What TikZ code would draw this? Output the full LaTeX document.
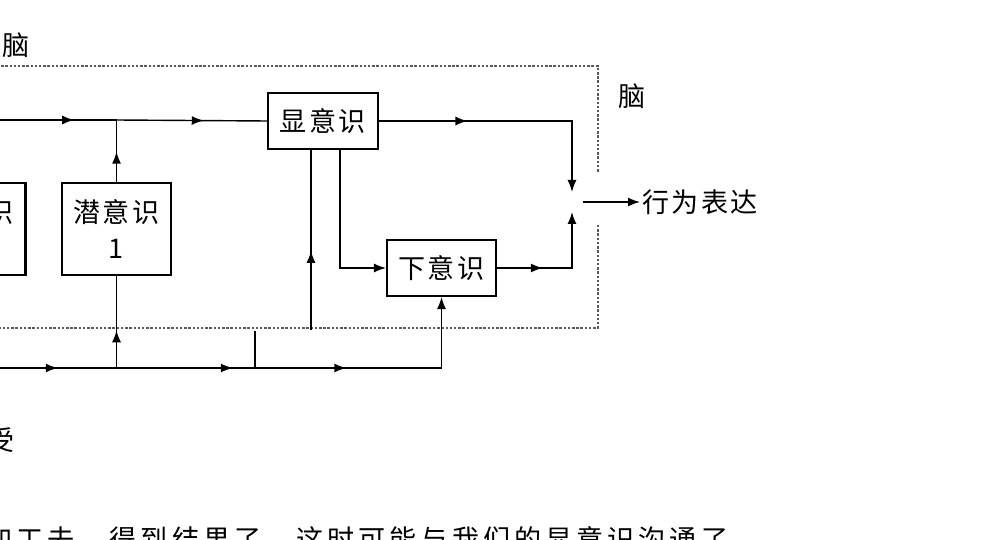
\documentclass[tikz,border=0pt]{standalone}
\usepackage{fontspec}
\setmainfont{Noto Sans CJK SC}[LetterSpace=9]
\usetikzlibrary{arrows.meta,decorations.markings}
\begin{document}
\begin{tikzpicture}[x=0.02cm, y=-0.02cm,
  font=\fontsize{15.4pt}{21pt}\selectfont,
  >={Latex[length=2.4mm,width=1.8mm]},
  box/.style={draw, rectangle, line width=1.2pt, inner sep=0pt, align=center},
  line/.style={line width=0.8pt},
  brain/.style={black!65, line width=0.7pt, dash pattern=on 1.4pt off 1pt},
  tipat/.style={postaction={decorate}, decoration={markings, mark=at position #1 with {\arrow{>}}}}]
  \useasboundingbox (0,0) rectangle (1000,540);

  \node (pre0) [box, minimum width=2.18cm, minimum height=1.84cm] at (-29,229) {潜意识\\\phantom{1}};
  \node (pre1) [box, minimum width=2.18cm, minimum height=1.84cm] at (116.5,229) {潜意识\\1};
  \node (con) [box, minimum width=2.2cm, minimum height=1.12cm] at (323,121) {显意识};
  \node (sub) [box, minimum width=2.18cm, minimum height=1.12cm] at (441.5,268) {下意识};
  \node (act) [anchor=west, inner sep=1pt] at (640,202) {行为表达};
  \node (brainL) at (16,45) {脑};
  \node (brainR) at (632,96) {脑};
  \node (recv) at (1,440) {受};
  \node (text) [anchor=base west, inner sep=0pt, font=\fontsize{15.4pt}{21pt}\selectfont\addfontfeatures{LetterSpace=15}] at (-15,549) {加工去，得到结果了，这时可能与我们的显意识沟通了};

  \coordinate (inT) at (-20,120);
  \coordinate (inB) at (-20,368);
  \coordinate (j1) at (116.5,120);
  \coordinate (j2) at (116.5,368);
  \coordinate (j3) at (255,368);
  \coordinate (gate) at (255,331);
  \coordinate (feed) at (311,330);
  \coordinate (mtop) at (572,192);
  \coordinate (mbot) at (572,212);
  \coordinate (mout) at (583,202);

  \draw [brain] (-20,66) -- (598,66) -- (598,172);
  \draw [brain] (598,225) -- (598,328) -- (-20,328);

  \draw [line, tipat=0.69] (inT) -- (j1);
  \draw [line, tipat=0.58] (j1) -- (con.west);
  \draw [line, tipat=0.49] (pre1.north) -- (j1);
  \draw [line, tipat=0.57] (inB) -- (j2);
  \draw [line, tipat=0.84] (j2) -- (j3);
  \draw [line, ->, tipat=0.355] (j3) -| (sub.south);
  \draw [line, tipat=0.41] (j2) -- (pre1.south);
  \draw [line] (j3) -- (gate);
  \draw [line, tipat=0.44] (feed) -- (feed |- con.south);
  \draw [line, ->] ([xshift=0.34cm]con.south) |- (sub.west);
  \draw [line, ->, tipat=0.335] (con.east) -| (mtop);
  \draw [line, ->, tipat=0.35] (sub.east) -| (mbot);
  \draw [line, ->] (mout) -- (act.west);
\end{tikzpicture}
\end{document}
